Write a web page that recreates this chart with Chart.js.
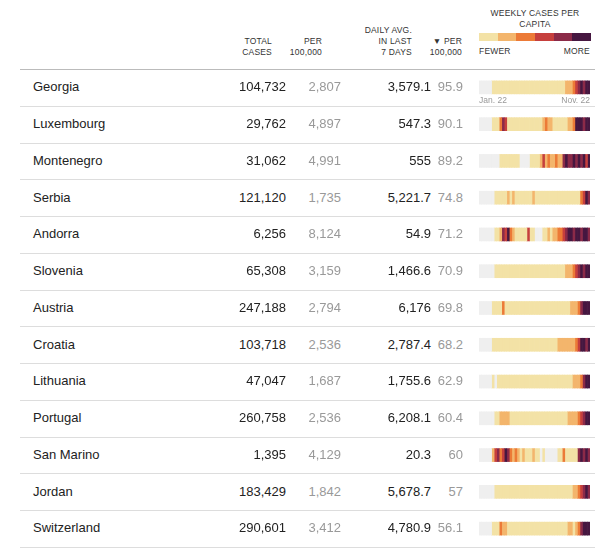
<!DOCTYPE html>
<html><head><meta charset="utf-8">
<script src="https://cdn.jsdelivr.net/npm/chart.js@4/dist/chart.umd.min.js"></script>
<style>
body{margin:0;width:600px;height:548px;background:#fff;font-family:"Liberation Sans",Arial,sans-serif;position:relative;overflow:hidden}
.t{position:absolute;white-space:nowrap}
.h{font-size:8.5px;color:#333;text-align:right;line-height:11px;letter-spacing:0.2px}
.c{font-size:13px;color:#222}
.n{font-size:13px;color:#222;text-align:right;width:90px}
.g{color:#999}
.line{position:absolute;left:20px;width:575px;height:1px;background:#ddd}
#wrap{position:absolute;left:470px;top:69px;width:130px;height:478px}
</style></head><body>
<div id="wrap"><canvas id="c"></canvas></div>
<script>
const countries=["Georgia","Luxembourg","Montenegro","Serbia","Andorra","Slovenia","Austria","Croatia","Lithuania","Portugal","San Marino","Jordan","Switzerland"];
const totalCases=["104,732","29,762","31,062","121,120","6,256","65,308","247,188","103,718","47,047","260,758","1,395","183,429","290,601"];
const per100k=["2,807","4,897","4,991","1,735","8,124","3,159","2,794","2,536","1,687","2,536","4,129","1,842","3,412"];
const dailyAvg=["3,579.1","547.3","555","5,221.7","54.9","1,466.6","6,176","2,787.4","1,755.6","6,208.1","20.3","5,678.7","4,780.9"];
const dailyPer100k=["95.9","90.1","89.2","74.8","71.2","70.9","69.8","68.2","62.9","60.4","60","57","56.1"];
// weekly level per country, 44 weeks Jan 22 .. Nov 22 (x = no data, 0..5 fewer..more)
const weekly=[
"xxxxx00000 0000000000 0000000000 0000111234 5455",
"xxxxx00024 3000000000 0000012110 0000011255 5455",
"xxxxxxxx00 000000xxxx 0000131211 2114544545 4535",
"xxxxxx0000 0101000000 0100000000 0000000000 2354",
"xxxxxx0014 3521000003 00xxx00101 1223455455 4554",
"xxxxxx0000 0000000000 0000000000 0000111234 5455",
"xxxxx00002 0000000000 0000000000 0000001112 4555",
"xxxxx00000 0000000000 0000000000 0111111123 5545",
"xxxxx0x000 0000000000 0000000000 0000000111 2455",
"xxxxxx0011 1100000000 0000000000 0000011112 3455",
"xxxxx13423 5421210100 0100x0xxxx x002000004 5454",
"xxxxxx0000 0000000000 0000000000 0000000112 3454",
"xxxxx00021 1000000000 0000000000 0000011012 4555"
].map(s=>s.replace(/ /g,"").split(""));
const palette=["#f3e2a6","#f3b56c","#ec7a37","#c63f3d","#8b2a48","#461740"];
const noData="#efefef";
</script>
<div class="t h" style="left:232px;top:36px;width:40px">TOTAL<br>CASES</div>
<div class="t h" style="left:282px;top:36px;width:40px">PER<br>100,000</div>
<div class="t h" style="left:352px;top:25px;width:60px">DAILY AVG.<br>IN LAST<br>7 DAYS</div>
<div class="t h" style="left:420px;top:36px;width:42px">▼ PER<br>100,000</div>
<div class="t h" style="left:479px;top:8px;width:112px;text-align:center">WEEKLY CASES PER<br>CAPITA</div>
<div id="leg" class="t" style="left:479px;top:33px;width:112px;height:8px;display:flex"></div>
<div class="t h" style="left:479px;top:46px;text-align:left">FEWER</div>
<div class="t h" style="left:560px;top:46px;width:30px">MORE</div>
<div class="t" style="left:479px;top:95px;font-size:8.5px;color:#999">Jan. 22</div>
<div class="t" style="left:540px;top:95px;width:50px;text-align:right;font-size:8.5px;color:#999">Nov. 22</div>
<div class="line" style="top:69px;background:#bbb"></div>
<script>
const leg=document.getElementById('leg');
palette.forEach(c=>{const d=document.createElement('div');d.style.flex='1';d.style.background=c;leg.appendChild(d);});
const pitch=36.75,top0=69;
countries.forEach((name,i)=>{
  const y=top0+i*pitch+pitch/2-8;
  const add=(html,cls,left,extra)=>{const d=document.createElement('div');d.className='t '+cls;d.style.left=left+'px';d.style.top=y+'px';d.innerHTML=html;if(extra)d.className+=' '+extra;document.body.appendChild(d);};
  add(name,'c',33);
  add(totalCases[i],'n',196);
  add(per100k[i],'n',251,'g');
  add(dailyAvg[i],'n',341);
  add(dailyPer100k[i],'n',373,'g');
  const l=document.createElement('div');l.className='line';l.style.top=(top0+(i+1)*pitch)+'px';document.body.appendChild(l);
});
const nW=Math.max(...weekly.map(r=>r.length));
const datasets=[];
for(let w=0;w<nW;w++){
  datasets.push({data:weekly.map(r=>w<r.length?1:0),
    backgroundColor:weekly.map(r=>{const v=r[w];return (v===undefined||v==='x')?noData:palette[+v];}),
    borderWidth:0,barThickness:13});
}
new Chart(document.getElementById('c'),{type:'bar',
 data:{labels:countries,datasets},
 options:{indexAxis:'y',responsive:true,maintainAspectRatio:false,animation:false,
  layout:{padding:{left:9,right:10,top:0,bottom:0}},
  plugins:{legend:{display:false},tooltip:{enabled:false}},
  scales:{x:{stacked:true,display:false,min:0,max:nW},y:{stacked:true,display:false}}}});
</script>
</body></html>
